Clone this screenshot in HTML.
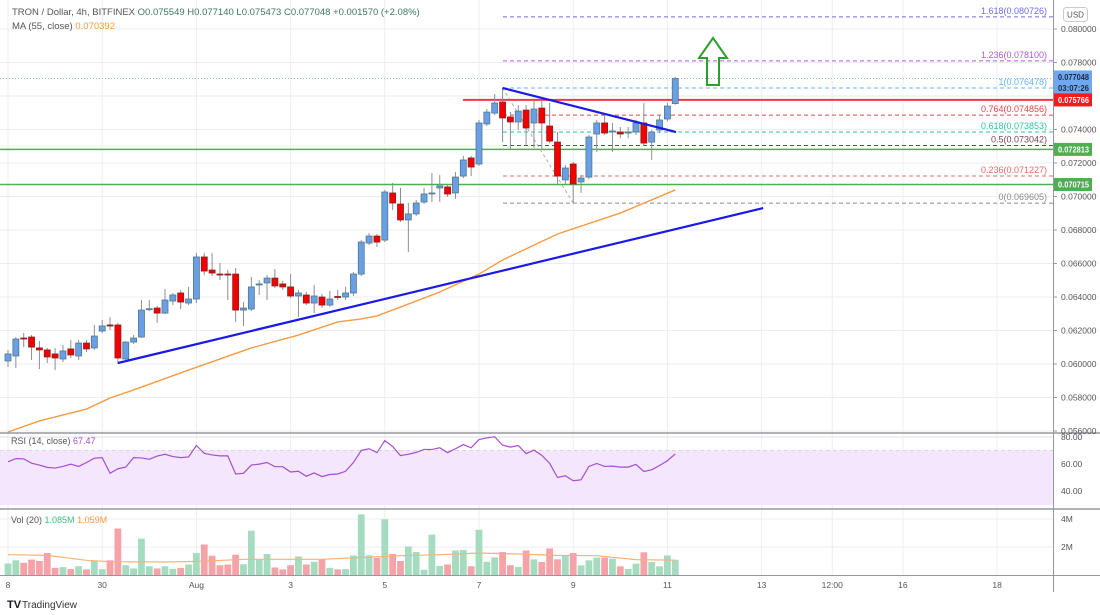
<!DOCTYPE html>
<html><head><meta charset="utf-8">
<style>
html,body{margin:0;padding:0;background:#fff;}
svg{display:block;font-family:"Liberation Sans",sans-serif;}
</style></head>
<body>
<svg id="chart" width="1100" height="615" viewBox="0 0 1100 615" xmlns="http://www.w3.org/2000/svg">
<rect x="0" y="0" width="1100" height="615" fill="#ffffff"/>
<g id="grid"></g>
<rect x="0" y="450.5" width="1053" height="54.5" fill="#f3e6fd"/>
<g id="drawings-back"></g>
<g id="candles"></g>
<g id="drawings"></g>
<g id="indicators"></g>
<g id="axes"></g>
<g id="labels"></g>
</svg>
<script>
const opens=[0.06018,0.06048,0.06155,0.06161,0.06096,0.06084,0.06060,0.06030,0.06090,0.06048,0.06125,0.06096,0.06197,0.06233,0.06233,0.06030,0.06131,0.06161,0.06328,0.06334,0.06304,0.06376,0.06424,0.06364,0.06388,0.06639,0.06561,0.06537,0.06537,0.06537,0.06322,0.06328,0.06472,0.06484,0.06513,0.06478,0.06460,0.06406,0.06412,0.06364,0.06400,0.06352,0.06403,0.06400,0.06424,0.06537,0.06722,0.06764,0.06740,0.07021,0.06955,0.06860,0.06896,0.06967,0.07018,0.07051,0.07057,0.07021,0.07122,0.07230,0.07194,0.07433,0.07498,0.07564,0.07475,0.07445,0.07516,0.07439,0.07528,0.07421,0.07325,0.07099,0.07194,0.07087,0.07116,0.07373,0.07439,0.07385,0.07385,0.07379,0.07385,0.07439,0.07325,0.07397,0.07463,0.075549];
const closes=[0.06060,0.06149,0.06152,0.06101,0.06084,0.06042,0.06036,0.06078,0.06054,0.06125,0.06090,0.06167,0.06227,0.06227,0.06036,0.06131,0.06155,0.06322,0.06330,0.06304,0.06382,0.06412,0.06370,0.06388,0.06639,0.06555,0.06543,0.06536,0.06531,0.06322,0.06334,0.06460,0.06478,0.06513,0.06466,0.06460,0.06406,0.06424,0.06364,0.06406,0.06352,0.06388,0.06397,0.06424,0.06537,0.06728,0.06764,0.06728,0.07027,0.06961,0.06860,0.06896,0.06961,0.07015,0.07021,0.07063,0.07015,0.07116,0.07218,0.07176,0.07439,0.07504,0.07558,0.07469,0.07445,0.07510,0.07409,0.07522,0.07439,0.07331,0.07122,0.07170,0.07075,0.07110,0.07355,0.07439,0.07379,0.07391,0.07373,0.07385,0.07439,0.07319,0.07385,0.07457,0.07540,0.077048];
const highs=[0.06084,0.06161,0.06185,0.06173,0.06137,0.06096,0.06096,0.06113,0.06143,0.06143,0.06143,0.06233,0.06263,0.06281,0.06245,0.06137,0.06173,0.06382,0.06382,0.06346,0.06448,0.06424,0.06442,0.06460,0.06663,0.06663,0.06663,0.06603,0.06561,0.06573,0.06370,0.06519,0.06501,0.06531,0.06567,0.06496,0.06537,0.06442,0.06430,0.06472,0.06418,0.06436,0.06442,0.06460,0.06549,0.06740,0.06782,0.06776,0.07039,0.07081,0.07051,0.06961,0.06979,0.07051,0.07140,0.07128,0.07075,0.07146,0.07242,0.07242,0.07457,0.07522,0.07612,0.07648,0.07504,0.07546,0.07546,0.07576,0.07576,0.07558,0.07385,0.07188,0.07206,0.07128,0.07367,0.07457,0.07487,0.07439,0.07415,0.07415,0.07457,0.07558,0.07397,0.07487,0.07558,0.077140];
const lows=[0.05982,0.05976,0.06101,0.06024,0.05970,0.06006,0.05964,0.06012,0.06036,0.06024,0.06072,0.06084,0.06185,0.06203,0.06000,0.06024,0.06119,0.06155,0.06316,0.06245,0.06298,0.06352,0.06328,0.06352,0.06364,0.06531,0.06525,0.06501,0.06382,0.06251,0.06227,0.06316,0.06412,0.06382,0.06454,0.06442,0.06394,0.06281,0.06352,0.06304,0.06334,0.06340,0.06382,0.06382,0.06406,0.06525,0.06710,0.06699,0.06728,0.06919,0.06848,0.06669,0.06884,0.06955,0.06967,0.06967,0.06997,0.06985,0.07110,0.07122,0.07182,0.07421,0.07487,0.07325,0.07278,0.07397,0.07307,0.07290,0.07278,0.07319,0.07069,0.07075,0.06961,0.07021,0.07104,0.07266,0.07367,0.07266,0.07349,0.07349,0.07367,0.07301,0.07218,0.07379,0.07451,0.075473];
const rsiValues=[61.6,64.0,63.8,60.6,59.2,57.5,57.0,58.2,59.9,58.2,61.1,64.3,64.7,53.1,56.5,57.7,64.7,64.5,63.5,65.9,67.2,65.5,64.7,65.2,73.7,67.9,66.7,66.0,66.0,52.6,53.1,59.2,59.9,61.1,58.0,58.0,54.1,54.6,50.9,53.4,50.7,52.2,52.6,54.6,61.1,70.1,71.3,68.4,77.3,73.0,66.2,67.2,68.6,70.8,70.8,72.0,68.4,71.3,74.4,72.0,78.1,79.3,80.2,73.9,72.5,73.7,67.7,70.3,66.4,60.5,50.0,51.3,47.6,48.3,58.2,60.4,58.2,58.4,57.7,57.7,59.7,54.5,55.7,58.9,62.4,67.47];
const volumes=[0.82,1.05,0.87,1.10,1.00,1.57,0.51,0.56,0.42,0.63,0.40,1.03,0.42,1.05,3.32,0.70,0.47,2.60,0.63,0.47,0.63,0.44,0.51,0.75,1.57,2.18,1.38,0.70,0.75,1.45,0.77,3.16,1.10,1.50,0.54,0.40,0.70,1.33,0.75,0.94,1.12,0.51,0.40,0.42,1.40,4.33,1.40,1.22,3.98,1.50,1.00,2.04,1.64,0.37,2.88,0.65,0.75,1.75,1.78,0.63,3.23,0.94,1.26,1.64,0.70,0.58,1.75,1.12,0.93,1.90,1.12,1.36,1.57,0.69,1.05,1.24,1.24,1.17,0.62,0.43,0.81,1.62,0.93,0.62,1.40,1.085];
const maIdx=[0,4,10,13,16,23,31,37,42,45,47,50,55,60,63,70,78,85];
const maValues=[0.05594,0.05660,0.05731,0.05797,0.05845,0.05964,0.06096,0.06173,0.06251,0.06269,0.06287,0.06340,0.06430,0.06537,0.06621,0.06776,0.06901,0.070392];
const volMaIdx=[0,5,10,13,20,25,30,35,40,45,50,55,60,65,70,75,80,85];
const volMaValues=[1.45,1.40,1.05,0.95,0.93,0.98,1.12,1.12,1.12,1.25,1.38,1.45,1.57,1.50,1.40,1.38,1.10,1.059];
const priceTicks=[0.080,0.078,0.076,0.074,0.072,0.070,0.068,0.066,0.064,0.062,0.060,0.058,0.056];
const priceTickLabels=["0.080000","0.078000","","0.074000","0.072000","0.070000","0.068000","0.066000","0.064000","0.062000","0.060000","0.058000","0.056000"];
const timeIdx=[0,12,24,36,48,60,72,84,96,105,114,126];
const timeLabels=["8","30","Aug","3","5","7","9","11","13","12:00","16","18"];
const rsiTicks=[80,60,40];
const volTicks=[4,2];
const fibLevels=[1.618,1.236,1,0.764,0.618,0.5,0.236,0];
const fibPrices=[0.080726,0.078100,0.076478,0.074856,0.073853,0.073042,0.071227,0.069605];
const fibColors=["#6c6ce0","#b25ad8","#64b5f6","#e04848","#2ec4a0","#7a4654","#e86a6a","#8a8a8a"];
const supportLine={i0:14,p0:0.06006,i1:96.2,p1:0.06931};
const resistLine={i0:63,p0:0.076478,i1:85.1,p1:0.07385};
const hLevels={red:0.075766,green1:0.072813,green2:0.070715};

const NS="http://www.w3.org/2000/svg";
const X=i=>8+i*7.85;
const Y=p=>29+(0.080-p)*16750;
const RY=v=>437+(80-v)*1.35;
const VY=v=>575-v*14;
const PW=1053;
function mk(parent,tag,attrs){const e=document.createElementNS(NS,tag);for(const k in attrs)e.setAttribute(k,attrs[k]);document.getElementById(parent).appendChild(e);return e;}
function txt(parent,x,y,s,attrs){const e=mk(parent,'text',Object.assign({x:x,y:y},attrs));e.textContent=s;return e;}

priceTicks.forEach(p=>{const l=mk('grid','line',{x1:0,x2:PW,y1:Y(p),y2:Y(p),stroke:'#eceef2','stroke-width':1});

});
timeIdx.forEach(i=>{const l=mk('grid','line',{x1:X(i),x2:X(i),y1:0,y2:575,stroke:'#eceef2','stroke-width':1});

});
rsiTicks.forEach(v=>{const l=mk('grid','line',{x1:0,x2:PW,y1:RY(v),y2:RY(v),stroke:'#e6dcef','stroke-width':1});

});
volTicks.forEach(v=>{const l=mk('grid','line',{x1:0,x2:PW,y1:VY(v),y2:VY(v),stroke:'#eceef2','stroke-width':1});

});
[70,30].forEach(v=>{const l=mk('grid','line',{x1:0,x2:PW,y1:RY(v),y2:RY(v),stroke:'#c8b8d8','stroke-width':1,'stroke-dasharray':'4 3'});

});

{
 const g1=mk('drawings-back','line',{x1:0,x2:PW,y1:Y(hLevels.green1),y2:Y(hLevels.green1),stroke:'#4caf50','stroke-width':1.5});
 
 
 const g2=mk('drawings-back','line',{x1:0,x2:PW,y1:Y(hLevels.green2),y2:Y(hLevels.green2),stroke:'#4caf50','stroke-width':1.5});
 
 
 const cl=mk('drawings-back','line',{x1:0,x2:PW,y1:Y(closes[85]),y2:Y(closes[85]),stroke:'#8fb8e8','stroke-width':1,'stroke-dasharray':'1 2'});
 
 
 fibLevels.forEach((lv,k)=>{
  const y=Y(fibPrices[k]);
  const l=mk('drawings-back','line',{x1:503,x2:PW,y1:y,y2:y,stroke:fibColors[k],'stroke-width':1,'stroke-dasharray':'4 3'});
  
  
  const t=txt('drawings-back',1047,y-3,lv+'('+fibPrices[k].toFixed(6)+')',{'font-size':9,fill:fibColors[k],'text-anchor':'end'});
  
  
 });
 const fd=mk('drawings-back','line',{x1:X(resistLine.i0),y1:Y(fibPrices[2]),x2:X(72),y2:Y(fibPrices[7]),stroke:'#aaaaaa','stroke-width':1,'stroke-dasharray':'3 3'});
 
 
 const r=mk('drawings-back','line',{x1:463,x2:PW,y1:Y(hLevels.red),y2:Y(hLevels.red),stroke:'#f23645','stroke-width':2});
 
 
}

{
 const pts=maIdx.map((i,k)=>X(i)+','+Y(maValues[k])).join(' ');
 const l=mk('drawings-back','polyline',{points:pts,fill:'none',stroke:'#f59b42','stroke-width':1.4});
 
 
}

opens.forEach((o,i)=>{
 const c=closes[i],up=c>=o,x=X(i);
 const w=mk('candles','line',{x1:x,x2:x,y1:Y(highs[i]),y2:Y(lows[i]),stroke:'#8a8f96','stroke-width':1});
 
 
 const top=Y(Math.max(o,c)),h=Math.max(1,Math.abs(Y(o)-Y(c)));
 const b=mk('candles','rect',{x:x-3,y:top,width:6,height:h,fill:up?'#6a9fe6':'#f20000',stroke:up?'#4f7a8a':'#8a2020','stroke-width':0.8});
 
 
});

{
 const s=mk('drawings','line',{x1:X(supportLine.i0),y1:Y(supportLine.p0),x2:X(supportLine.i1),y2:Y(supportLine.p1),stroke:'#1a1ae6','stroke-width':2.2});
 
 
 const r=mk('drawings','line',{x1:X(resistLine.i0),y1:Y(resistLine.p0),x2:X(resistLine.i1),y2:Y(resistLine.p1),stroke:'#1a1ae6','stroke-width':2.2});
 
 
 const a=mk('drawings','path',{d:'M713,38 L727,58 L719,58 L719,85 L707,85 L707,58 L699,58 Z',fill:'none',stroke:'#2ca02c','stroke-width':2});
 
 
}

{
 const pts=rsiValues.map((v,i)=>X(i)+','+RY(v)).join(' ');
 const l=mk('indicators','polyline',{points:pts,fill:'none',stroke:'#a64fd0','stroke-width':1.2});
 
 
}
volumes.forEach((v,i)=>{
 const up=closes[i]>=opens[i];
 const b=mk('indicators','rect',{x:X(i)-3.4,y:VY(v),width:6.8,height:v*14,fill:up?'#a5dcc0':'#f4a3a8'});
 
 
});
{
 const pts=volMaIdx.map((i,k)=>X(i)+','+VY(volMaValues[k])).join(' ');
 const l=mk('indicators','polyline',{points:pts,fill:'none',stroke:'#f7b27a','stroke-width':1.2});
 
 
}

{
 const sep1=mk('axes','line',{x1:0,x2:1100,y1:433,y2:433,stroke:'#9598a1','stroke-width':1.5});
 
 
 const sep2=mk('axes','line',{x1:0,x2:1100,y1:509,y2:509,stroke:'#9598a1','stroke-width':1.5});
 
 
 const bx=mk('axes','line',{x1:0,x2:1100,y1:575.5,y2:575.5,stroke:'#9598a1','stroke-width':1});
 
 
 const vx=mk('axes','line',{x1:1053.5,x2:1053.5,y1:0,y2:592,stroke:'#9598a1','stroke-width':1});
 
 
 priceTicks.forEach((p,k)=>{
  if(!priceTickLabels[k])return;
  const tk=mk('axes','line',{x1:1053,x2:1057,y1:Y(p),y2:Y(p),stroke:'#9598a1'});
  
  
  const t=txt('axes',1061,Y(p)+3,priceTickLabels[k],{'font-size':8.5,fill:'#555'});
  
  
 });
 rsiTicks.forEach(v=>{
  const t=txt('axes',1061,RY(v)+3,v.toFixed(2),{'font-size':8.5,fill:'#555'});
  
  
 });
 volTicks.forEach(v=>{
  const t=txt('axes',1061,VY(v)+3,v+'M',{'font-size':8.5,fill:'#555'});
  
  
 });
 timeIdx.forEach((i,k)=>{
  const t=txt('axes',X(i),588,timeLabels[k],{'font-size':8.5,fill:'#555','text-anchor':'middle'});
  
  
 });
}
function tag(y,h,fill,lines,color,name){
 const r=mk('labels','rect',{x:1054,y:y,width:38,height:h,fill:fill});
 
 
 lines.forEach((s,k)=>{const t=txt('labels',1058,y+9.5+k*11,s,{'font-size':8,fill:color,'font-weight':'bold',textLength:31,lengthAdjust:'spacingAndGlyphs'});
 
 });
}
tag(Y(closes[85])-8,24,'#6fa8f0',[closes[85].toFixed(6),'03:07:26'],'#1a2a40','last-price-tag');
tag(Y(hLevels.red)-6.5,13,'#f21c1c',[hLevels.red.toFixed(6)],'#ffffff','resistance-price-tag');
tag(Y(hLevels.green1)-6.5,13,'#4caf50',[hLevels.green1.toFixed(6)],'#ffffff','support-price-tag');
tag(Y(hLevels.green2)-6.5,13,'#4caf50',[hLevels.green2.toFixed(6)],'#ffffff','support-price-tag');
</script>
<svg style="position:absolute;left:0;top:0" width="1100" height="615" xmlns="http://www.w3.org/2000/svg" font-family="Liberation Sans, sans-serif">
 <g><rect x="1063.5" y="7.5" width="24" height="14" rx="3" fill="#fff" stroke="#c8cbd2"/><text x="1075.5" y="17.5" font-size="8" fill="#555" text-anchor="middle">USD</text></g>
 <text x="12" y="15" font-size="9.5" fill="#555">TRON / Dollar, 4h, BITFINEX <tspan fill="#3d7a5c">  O0.075549  H0.077140  L0.075473  C0.077048  +0.001570 (+2.08%)</tspan></text>
 <text x="12" y="29" font-size="9.5" fill="#555">MA (55, close) <tspan fill="#f59b42"> 0.070392</tspan></text>
 <text x="11" y="444" font-size="9" fill="#555">RSI (14, close) <tspan fill="#a64fd0"> 67.47</tspan></text>
 <text x="11" y="523" font-size="9" fill="#555">Vol (20) <tspan fill="#3fbf80"> 1.085M</tspan><tspan fill="#f59b42">  1.059M</tspan></text>
 <g><text x="7" y="608" font-size="11" font-weight="bold" fill="#131722">TV</text><text x="22" y="608" font-size="10" fill="#333">TradingView</text></g>
</svg>
<style>body{position:relative;width:1100px;height:615px;overflow:hidden;}</style>
</body></html>
